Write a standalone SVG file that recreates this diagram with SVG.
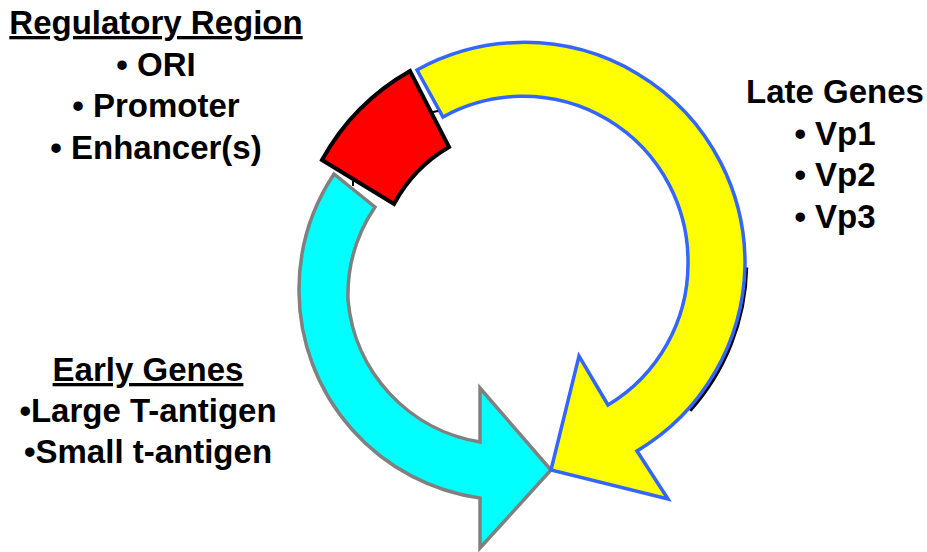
<svg xmlns="http://www.w3.org/2000/svg" width="927" height="552" viewBox="0 0 927 552">
  <style>
    .t { font-family: "Liberation Sans", Arial, sans-serif; font-weight: bold; font-size: 33px; fill: #000; text-anchor: middle; }
    .u { text-decoration: underline; }
    .arc { stroke-linejoin: miter; stroke-miterlimit: 10; }
  </style>
  <rect width="927" height="552" fill="#fff"/>

  <g id="node-early">
    <path class="arc" d="M334,174 A210,210 0 0 0 299,293 A210,210 0 0 0 480,498 L480,548 L551,470 L480,388 L480,442 A158,158 0 0 1 348,300 A158,158 0 0 1 375,207 Z" fill="#00FFFF" stroke="#808080" stroke-width="3.5"/>
  </g>

  <g id="node-late">
    <path d="M745,266 A221,221 0 0 1 688.5,409.1" fill="none" stroke="#000" stroke-width="3.5" transform="translate(1.5,1.5)"/>
    <path class="arc" d="M417,70 A221,221 0 0 1 745,266 A221,221 0 0 1 637,451 L668,499 L551,470 L579,356 L608,405 A165,165 0 0 0 688,262 A165,165 0 0 0 443,117 Z" fill="#FFFF00" stroke="#3366FF" stroke-width="3.5"/>
  </g>

  <g id="node-regulatory">
    <path class="arc" d="M322,160 A231,231 0 0 1 410,71 L449,147 A146,146 0 0 0 394,204 Z" fill="#FF0000" stroke="#000" stroke-width="4"/>
  </g>

  <g id="connectors">
    <line x1="433" y1="112" x2="438" y2="111" stroke="#000" stroke-width="2"/>
    <line x1="353" y1="181" x2="353" y2="186" stroke="#000" stroke-width="2"/>
  </g>

  <g id="label-regulatory">
    <text class="t u" x="156" y="34">Regulatory Region</text>
    <text class="t" x="156" y="76">• ORI</text>
    <text class="t" x="156" y="117">• Promoter</text>
    <text class="t" x="156" y="159">• Enhancer(s)</text>
  </g>

  <g id="label-late">
    <text class="t" x="835" y="103">Late Genes</text>
    <text class="t" x="835" y="145">• Vp1</text>
    <text class="t" x="835" y="186">• Vp2</text>
    <text class="t" x="835" y="228">• Vp3</text>
  </g>

  <g id="label-early">
    <text class="t u" x="148" y="381">Early Genes</text>
    <text class="t" x="148" y="422">•Large T-antigen</text>
    <text class="t" x="148" y="463">•Small t-antigen</text>
  </g>
</svg>
